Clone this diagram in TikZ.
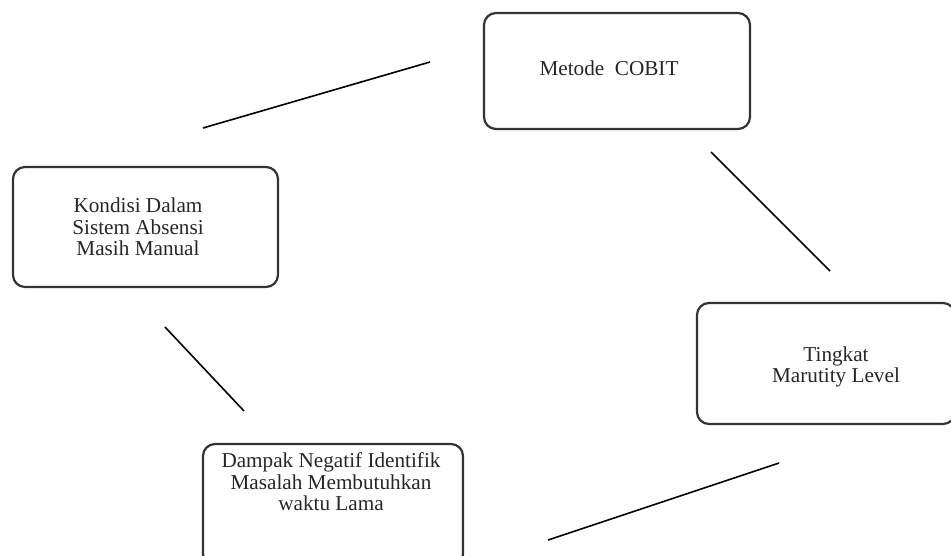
\documentclass[tikz,border=0pt]{standalone}
\usepackage{fontspec}
\setmainfont{Liberation Serif}
\begin{document}
\begin{tikzpicture}[x=1pt,y=-1pt,
  box/.style={draw=black!80, line width=2.2pt, rounded corners=12pt, inner sep=0pt},
  lbl/.style={align=center, text=black!85, font=\fontsize{21.2}{21.5}\selectfont, inner sep=0pt},
  link/.style={draw=black, line width=1.6pt}]
  \useasboundingbox (0,0) rectangle (951,555);
  % boxes
  \node[box, minimum width=266pt, minimum height=116pt] (cobit) at (617,71) {};
  \node[box, minimum width=265pt, minimum height=120pt] (kondisi) at (145.5,227) {};
  \node[box, minimum width=258pt, minimum height=121pt] (tingkat) at (826,363.5) {};
  \node[box, minimum width=260pt, minimum height=122pt] (dampak) at (333,505) {};
  % labels
  \node[lbl] (tcobit) at (609,68) {Metode\ \ COBIT};
  \node[lbl] (tkondisi) at (138,227) {Kondisi Dalam\\Sistem Absensi\\Masih Manual};
  \node[lbl] (ttingkat) at (836,367) {Tingkat\\Marutity Level};
  \node[lbl] (tdampak) at (331,482) {Dampak Negatif Identifik\\Masalah Membutuhkan\\waktu Lama};
  % free-standing connectors between the boxes
  \coordinate (a1) at (203,128); \coordinate (a2) at (430,62);
  \coordinate (b1) at (711,152); \coordinate (b2) at (830,271);
  \coordinate (c1) at (165,327); \coordinate (c2) at (244,411);
  \coordinate (d1) at (548,540); \coordinate (d2) at (779,463);
  \draw[link] (a1) -- (a2);
  \draw[link] (b1) -- (b2);
  \draw[link] (c1) -- (c2);
  \draw[link] (d1) -- (d2);
\end{tikzpicture}
\end{document}
